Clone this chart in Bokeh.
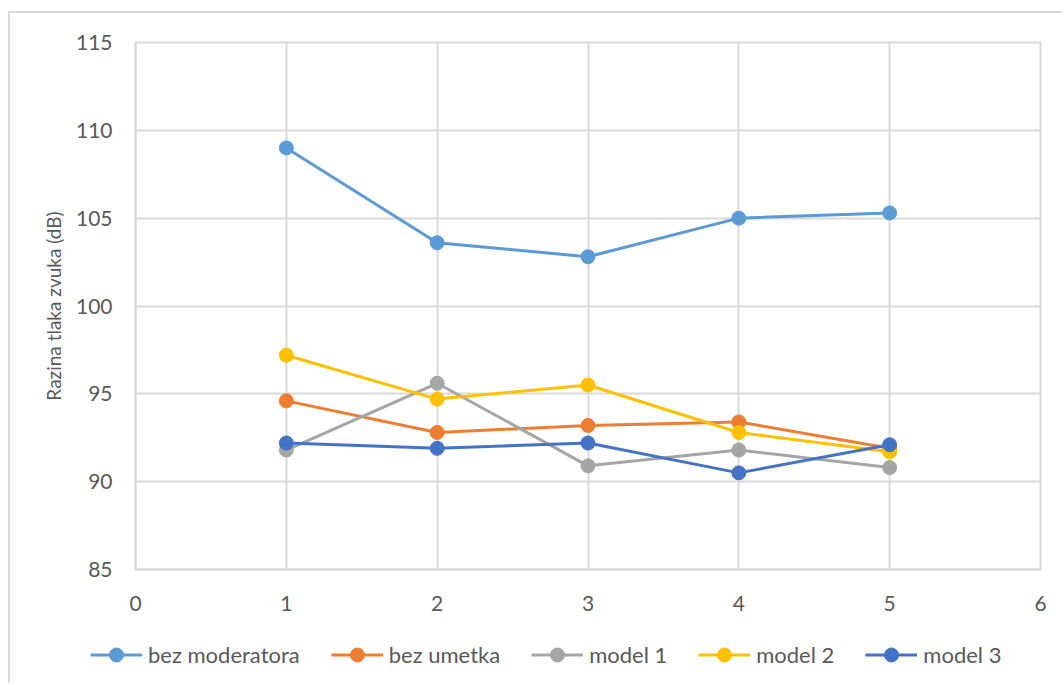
from bokeh.plotting import figure
from bokeh.models import Range1d, FixedTicker, Legend, LegendItem
from bokeh.embed import file_html
from bokeh.resources import INLINE

x_vals = [1, 2, 3, 4, 5]
bez_moderatora = [109.0, 103.6, 102.8, 105.0, 105.3]
bez_umetka = [94.6, 92.8, 93.2, 93.4, 91.9]
model_1 = [91.8, 95.6, 90.9, 91.8, 90.8]
model_2 = [97.2, 94.7, 95.5, 92.8, 91.7]
model_3 = [92.2, 91.9, 92.2, 90.5, 92.1]
series_names = ["bez moderatora", "bez umetka", "model 1", "model 2", "model 3"]
series_colors = ["#5B9BD5", "#ED7D31", "#A5A5A5", "#FFC000", "#4472C4"]
x_ticks = [0, 1, 2, 3, 4, 5, 6]
y_ticks = [85, 90, 95, 100, 105, 110, 115]
y_label = "Razina tlaka zvuka (dB)"

FONT = "Lato"
TXT = "#595959"
GRID = "#d9d9d9"

p = figure(width=1054, height=616, output_backend="svg", toolbar_location=None,
           x_range=Range1d(0, 6), y_range=Range1d(85, 115),
           min_border_left=125, min_border_right=24, min_border_top=29, min_border_bottom=60,
           styles={"border-left": "2px solid #d9d9d9", "border-top": "2px solid #d9d9d9",
                   "margin-top": "11px", "margin-left": "8px"})

p.xaxis.ticker = FixedTicker(ticks=x_ticks)
p.yaxis.ticker = FixedTicker(ticks=y_ticks)
for ax in (p.xaxis[0], p.yaxis[0]):
    ax.major_tick_line_color = None
    ax.minor_tick_line_color = None
    ax.axis_line_color = GRID
    ax.axis_line_width = 2
    ax.major_label_text_font = FONT
    ax.major_label_text_color = TXT
    ax.major_label_text_font_size = "21px"
p.xaxis.major_label_standoff = 20
p.yaxis.major_label_standoff = 17
p.yaxis.axis_label = y_label
p.yaxis.axis_label_text_font = FONT
p.yaxis.axis_label_text_font_size = "19px"
p.yaxis.axis_label_text_font_style = "normal"
p.yaxis.axis_label_text_color = TXT
p.yaxis.axis_label_standoff = 8

p.xgrid.grid_line_color = GRID
p.ygrid.grid_line_color = GRID
p.xgrid.grid_line_width = 2
p.ygrid.grid_line_width = 2
p.outline_line_color = GRID
p.outline_line_width = 2

all_series = [bez_moderatora, bez_umetka, model_1, model_2, model_3]
for col, ys in zip(series_colors, all_series):
    p.line(x_vals, ys, line_color=col, line_width=3)
    p.scatter(x_vals, ys, marker="circle", size=14, fill_color=col, line_color=col)

# legend strip below the chart (its ranges keep the series themselves out of view)
lg = figure(width=1054, height=56, output_backend="svg", toolbar_location=None,
            x_range=Range1d(10, 11), y_range=Range1d(0, 1),
            min_border=0, outline_line_color=None,
            styles={"border-left": "2px solid #d9d9d9", "margin-left": "8px"})
lg.axis.visible = False
lg.grid.visible = False
items = []
for name, col, ys in zip(series_names, series_colors, all_series):
    r1 = lg.line(x_vals, ys, line_color=col, line_width=3)
    r2 = lg.scatter(x_vals, ys, marker="circle", size=14, fill_color=col, line_color=col)
    items.append(LegendItem(label=name, renderers=[r1, r2]))
legend = Legend(items=items, orientation="horizontal", location=(80, 11),
                glyph_width=52, glyph_height=35, label_standoff=6, spacing=31,
                padding=0, margin=0, border_line_color=None, background_fill_alpha=0,
                label_text_font=FONT, label_text_font_size="22px", label_text_color=TXT)
lg.add_layout(legend, "center")

open("out.html", "w").write(file_html([p, lg], INLINE))
